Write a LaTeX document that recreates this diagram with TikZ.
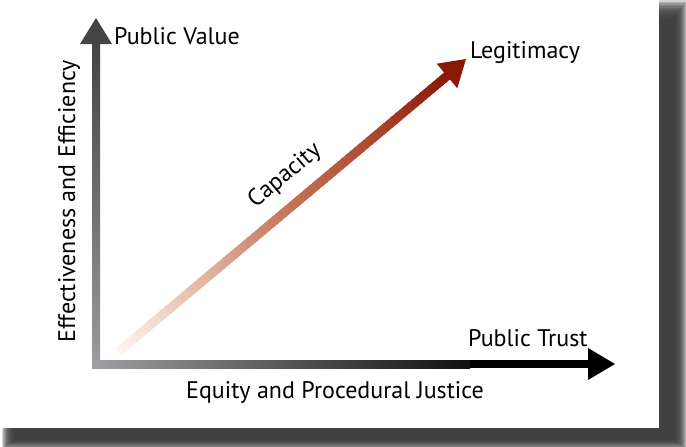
\documentclass[tikz,border=0pt]{standalone}
\usepackage{fontspec}
\setmainfont{PT Sans}
\usetikzlibrary{calc}
\definecolor{shadowc}{HTML}{3A3A3A}
\definecolor{vtop}{HTML}{444446}
\definecolor{vbot}{HTML}{9C9CA0}
\definecolor{hleft}{HTML}{A0A0A4}
\definecolor{hmid}{HTML}{101010}
\definecolor{capA}{HTML}{FDF5F1}
\definecolor{capB}{HTML}{E8C4B2}
\definecolor{capC}{HTML}{C87A5E}
\definecolor{capD}{HTML}{A8442A}
\definecolor{capdark}{HTML}{8A1806}
\begin{document}
\begin{tikzpicture}[x=1pt,y=-1pt,
  lbl/.style={font=\fontsize{24}{28}\selectfont, inner sep=0pt, text=black}]
\useasboundingbox (0,0) rectangle (686,447);
% drop shadow
\foreach \i in {0,...,12}
  \fill[shadowc, opacity=0.22] (2+\i,1.5*\i) rectangle (687-\i,449-0.8*\i);
% card
\fill[white] (0,0) rectangle (659,428);
% coordinates
\coordinate (O) at (96,364);
\coordinate (Ytip) at (96,18);
\coordinate (Xtip) at (615,364);
\coordinate (Ctail) at (118,352);
\coordinate (Cbase) at (447,76);
\coordinate (Ctip) at (466,59);
% vertical axis
\shade[top color=vtop, bottom color=vbot] (92,43) rectangle (100,368);
\fill[vtop] (80,44) -- (Ytip) -- (112,44) -- cycle;
% horizontal axis
\shade[left color=hleft, right color=hmid] (92,360) rectangle (470,368);
\fill[black] (469.5,360) rectangle (589,368);
\fill[black] (588,348) -- (Xtip) -- (588,380) -- cycle;
% diagonal capacity arrow
\foreach \i in {0,...,79}{
  \pgfmathsetmacro\a{\i/80}
  \pgfmathsetmacro\b{(\i+1.4)/80}
  \pgfmathsetmacro\t{\i/79}
  \ifdim\t pt<0.2pt
    \pgfmathtruncatemacro\p{100*\t/0.2}\colorlet{segc}{capB!\p!capA}
  \else\ifdim\t pt<0.49pt
    \pgfmathtruncatemacro\p{100*(\t-0.2)/0.29}\colorlet{segc}{capC!\p!capB}
  \else\ifdim\t pt<0.8pt
    \pgfmathtruncatemacro\p{100*(\t-0.49)/0.31}\colorlet{segc}{capD!\p!capC}
  \else
    \pgfmathtruncatemacro\p{100*(\t-0.8)/0.2}\colorlet{segc}{capdark!\p!capD}
  \fi\fi\fi
  \draw[line width=9pt, line cap=butt, draw=segc]
    ($(Ctail)!\a!(Cbase)$) -- ($(Ctail)!\b!(Cbase)$);
}
\fill[capdark] (436.7,63.7) -- (Ctip) -- (457.3,88.3) -- cycle;
% labels
\node[lbl, anchor=base west] (pv) at (114,44) {Public Value};
\node[lbl, anchor=base west] (leg) at (470,58) {Legitimacy};
\node[lbl, anchor=base west] (pt) at (468,346) {Public Trust};
\node[lbl, anchor=base west] (eq) at (186,398) {Equity and Procedural Justice};
\node[lbl, anchor=base west, rotate=90] (ee) at (75,343) {Effectiveness and Efficiency};
\node[lbl, rotate=40] (cap) at (285,176) {Capacity};
\end{tikzpicture}
\end{document}
